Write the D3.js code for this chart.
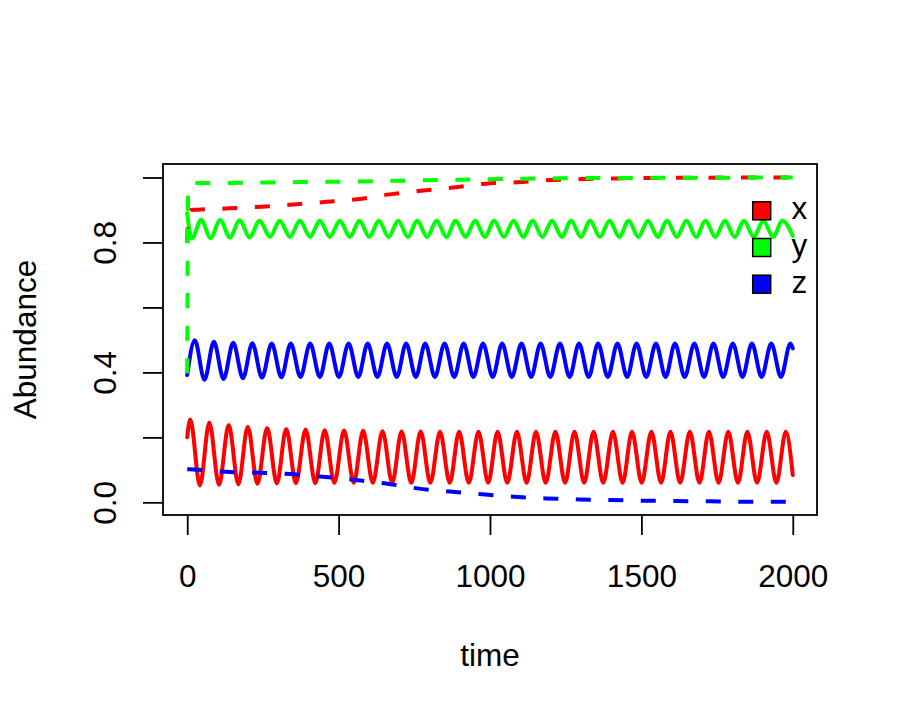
<!DOCTYPE html>
<html>
<head>
<meta charset="utf-8">
<script src="https://cdn.jsdelivr.net/npm/d3@7"></script>
<style>
  html, body { margin: 0; padding: 0; background: #fff; }
  svg { display: block; }
  text { font-family: "Liberation Sans", Arial, Helvetica, sans-serif; fill: #000; }
</style>
</head>
<body>
<svg id="chart" width="900" height="718"></svg>
<script>
// ---------------- data ----------------
const xTicks = [0, 500, 1000, 1500, 2000];
const yTicks = [0.0, 0.2, 0.4, 0.6, 0.8, 1.0];
const yTickLabels = ["0.0", "", "0.4", "", "0.8", ""];
const legendNames = ["x", "y", "z"];
const seriesColors = ["#ff0000", "#00ff00", "#0000ff"];

// x (solid, red): start, peaks/troughs, end
const xSolidT = [0, 10, 42, 73, 105, 137, 169, 200, 232, 264, 296, 327, 359, 391, 423, 454, 486, 518, 550, 581, 613, 645, 677, 708, 740, 771, 803, 835, 867, 898, 930, 962, 994, 1025, 1057, 1089, 1121, 1152, 1184, 1216, 1248, 1279, 1311, 1342, 1374, 1406, 1438, 1469, 1501, 1533, 1565, 1596, 1628, 1660, 1692, 1723, 1755, 1787, 1819, 1850, 1882, 1914, 1946, 1977, 2000];
const xSolidV = [0.200, 0.255, 0.052, 0.246, 0.054, 0.238, 0.056, 0.233, 0.057, 0.229, 0.058, 0.226, 0.059, 0.224, 0.059, 0.222, 0.060, 0.221, 0.060, 0.220, 0.060, 0.219, 0.060, 0.218, 0.060, 0.218, 0.060, 0.217, 0.060, 0.217, 0.060, 0.217, 0.060, 0.217, 0.060, 0.217, 0.060, 0.217, 0.060, 0.217, 0.060, 0.217, 0.060, 0.217, 0.060, 0.217, 0.060, 0.217, 0.060, 0.217, 0.060, 0.217, 0.060, 0.217, 0.060, 0.217, 0.060, 0.217, 0.060, 0.217, 0.060, 0.217, 0.060, 0.217, 0.084];

// y (solid, green): start, troughs/peaks, end
const ySolidT = [0, 15, 46, 77, 109, 141, 173, 206, 239, 273, 306, 339, 372, 406, 438, 471, 504, 537, 569, 601, 633, 665, 697, 729, 760, 792, 824, 856, 887, 919, 951, 983, 1014, 1046, 1078, 1110, 1141, 1173, 1205, 1237, 1268, 1300, 1331, 1363, 1395, 1427, 1458, 1490, 1522, 1554, 1585, 1617, 1649, 1681, 1712, 1744, 1776, 1808, 1839, 1871, 1903, 1935, 1966, 2000];
const ySolidV = [0.890, 0.812, 0.870, 0.814, 0.869, 0.815, 0.868, 0.816, 0.867, 0.817, 0.867, 0.817, 0.867, 0.817, 0.867, 0.817, 0.867, 0.817, 0.867, 0.817, 0.867, 0.817, 0.867, 0.817, 0.867, 0.817, 0.867, 0.817, 0.867, 0.817, 0.867, 0.817, 0.867, 0.817, 0.867, 0.817, 0.867, 0.817, 0.867, 0.817, 0.867, 0.817, 0.867, 0.817, 0.867, 0.817, 0.867, 0.817, 0.867, 0.817, 0.867, 0.817, 0.867, 0.817, 0.867, 0.817, 0.867, 0.817, 0.867, 0.817, 0.867, 0.817, 0.867, 0.820];

// z (solid, blue): start, peaks/troughs, end
const zSolidT = [0, 25, 57, 88, 120, 152, 184, 215, 247, 279, 311, 342, 374, 406, 438, 469, 501, 533, 565, 596, 628, 660, 692, 723, 755, 786, 818, 850, 882, 913, 945, 977, 1009, 1040, 1072, 1104, 1136, 1167, 1199, 1231, 1263, 1294, 1326, 1357, 1389, 1421, 1453, 1484, 1516, 1548, 1580, 1611, 1643, 1675, 1707, 1738, 1770, 1802, 1834, 1865, 1897, 1929, 1961, 1992, 2000];
const zSolidV = [0.392, 0.499, 0.377, 0.494, 0.380, 0.491, 0.382, 0.490, 0.384, 0.489, 0.385, 0.489, 0.386, 0.489, 0.386, 0.489, 0.386, 0.489, 0.386, 0.489, 0.386, 0.489, 0.386, 0.489, 0.386, 0.489, 0.386, 0.489, 0.386, 0.489, 0.386, 0.489, 0.386, 0.489, 0.386, 0.489, 0.386, 0.489, 0.386, 0.489, 0.386, 0.489, 0.386, 0.489, 0.386, 0.489, 0.386, 0.489, 0.386, 0.489, 0.386, 0.489, 0.386, 0.489, 0.386, 0.489, 0.386, 0.489, 0.386, 0.489, 0.386, 0.489, 0.386, 0.489, 0.474];

// dashed series
const xDashT = [0, 4, 12, 32, 139, 246, 353, 461, 562, 668, 772, 879, 987, 1088, 1198, 1306, 1413, 1600, 2000];
const xDashV = [0.800, 0.890, 0.900, 0.901, 0.905, 0.910, 0.917, 0.925, 0.933, 0.948, 0.959, 0.969, 0.981, 0.985, 0.992, 0.995, 0.997, 0.999, 1.000];

const yDashT = [0, 3, 8, 20, 100, 300, 500, 700, 900, 1100, 1300, 1600, 2000];
const yDashV = [0.397, 0.940, 0.978, 0.983, 0.983, 0.985, 0.987, 0.990, 0.993, 0.996, 0.998, 0.999, 1.000];

const zDashT = [0, 20, 127, 236, 343, 447, 553, 656, 760, 868, 975, 1079, 1184, 1294, 1398, 1508, 1618, 1728, 1836, 1946, 2000];
const zDashV = [0.102, 0.101, 0.094, 0.091, 0.087, 0.079, 0.069, 0.058, 0.043, 0.033, 0.025, 0.017, 0.012, 0.009, 0.007, 0.005, 0.004, 0.003, 0.002, 0.002, 0.002];

// ---------------- drawing ----------------
const svg = d3.select("#chart");
const box = { left: 163, right: 817, top: 164, bottom: 515 };

const x = d3.scaleLinear().domain([-80, 2080]).range([box.left, box.right]);
const y = d3.scaleLinear().domain([-0.039, 1.0415]).range([box.bottom, box.top]);

const FS = 31.5;

const toPts = (T, V) => T.map((t, i) => [t, V[i]]);
const line = d3.line().x(d => x(d[0])).y(d => y(d[1])).curve(d3.curveMonotoneX);

const solid = [toPts(xSolidT, xSolidV), toPts(ySolidT, ySolidV), toPts(zSolidT, zSolidV)];
const dashed = [toPts(xDashT, xDashV), toPts(yDashT, yDashV), toPts(zDashT, zDashV)];

const plot = svg.append("g");
solid.forEach((pts, i) => {
  plot.append("path").datum(pts)
    .attr("d", line)
    .attr("fill", "none")
    .attr("stroke", seriesColors[i])
    .attr("stroke-width", 4)
    .attr("stroke-linejoin", "round")
    .attr("stroke-linecap", "round");
});
dashed.forEach((pts, i) => {
  plot.append("path").datum(pts)
    .attr("d", line)
    .attr("fill", "none")
    .attr("stroke", seriesColors[i])
    .attr("stroke-width", 4)
    .attr("stroke-dasharray", "15,17.5")
    .attr("stroke-linecap", "butt");
});

// box
svg.append("rect")
  .attr("x", box.left).attr("y", box.top)
  .attr("width", box.right - box.left).attr("height", box.bottom - box.top)
  .attr("fill", "none").attr("stroke", "#000").attr("stroke-width", 1.8);

// x axis
const xAxis = d3.axisBottom(x).tickValues(xTicks).tickSize(20).tickPadding(32)
  .tickFormat(d3.format("d"));
const gx = svg.append("g").attr("transform", `translate(0,${box.bottom})`).call(xAxis);
gx.select(".domain").remove();
gx.selectAll(".tick line").attr("stroke", "#000").attr("stroke-width", 1.8);
gx.selectAll(".tick text").attr("font-size", FS).attr("font-family", "Liberation Sans, Arial, sans-serif")
  .attr("dy", null).attr("y", 72);

// y axis
const yAxis = d3.axisLeft(y).tickValues(yTicks).tickSize(20).tickFormat((d, i) => yTickLabels[i]);
const gy = svg.append("g").attr("transform", `translate(${box.left},0)`).call(yAxis);
gy.select(".domain").remove();
gy.selectAll(".tick line").attr("stroke", "#000").attr("stroke-width", 1.8);
gy.selectAll(".tick text")
  .attr("font-size", FS).attr("font-family", "Liberation Sans, Arial, sans-serif")
  .attr("x", null).attr("dy", null)
  .attr("text-anchor", "middle")
  .attr("transform", "translate(-47,0) rotate(-90)");

// axis titles
svg.append("text")
  .attr("x", (box.left + box.right) / 2).attr("y", 666)
  .attr("text-anchor", "middle").attr("font-size", FS)
  .text("time");
svg.append("text")
  .attr("transform", `translate(36,${(box.top + box.bottom) / 2}) rotate(-90)`)
  .attr("text-anchor", "middle").attr("font-size", FS)
  .text("Abundance");

// legend
const leg = svg.append("g");
legendNames.forEach((name, i) => {
  const cy = 210.8 + i * 36.7;
  leg.append("rect")
    .attr("x", 752.7).attr("y", cy - 9).attr("width", 18).attr("height", 18)
    .attr("fill", seriesColors[i]).attr("stroke", "#000").attr("stroke-width", 1.5);
  leg.append("text")
    .attr("x", 791.5).attr("y", cy + 8.5)
    .attr("font-size", FS).text(name);
});
</script>
</body>
</html>
